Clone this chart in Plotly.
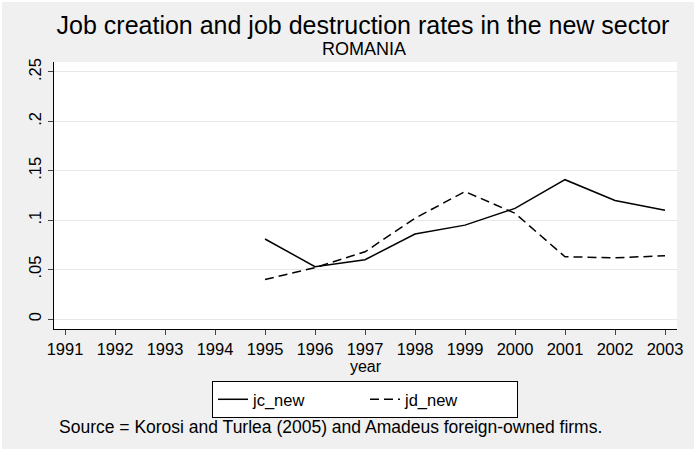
import plotly.graph_objects as go

years = [1995, 1996, 1997, 1998, 1999, 2000, 2001, 2002, 2003]
jc_new = [0.081, 0.053, 0.060, 0.086, 0.095, 0.112, 0.141, 0.120, 0.110]
jd_new = [0.040, 0.052, 0.068, 0.102, 0.129, 0.107, 0.063, 0.062, 0.064]
x_ticks = list(range(1991, 2004))
y_ticks = [0, 0.05, 0.1, 0.15, 0.2, 0.25]
y_labels = ['0', '.05', '.1', '.15', '.2', '.25']

fig = go.Figure()
fig.add_trace(go.Scatter(x=years, y=jc_new, mode='lines', name='jc_new',
                         line=dict(color='black', width=1.5)))
fig.add_trace(go.Scatter(x=years, y=jd_new, mode='lines', name='jd_new',
                         line=dict(color='black', width=1.5, dash='9px,5px')))

# page has a 2px white body margin, so the figure is 694x447
fig.update_layout(
    width=694, height=447,
    margin=dict(l=52, r=19, t=60, b=120),
    paper_bgcolor='#f0f0f0',
    plot_bgcolor='white',
    font=dict(family='Liberation Sans, Arial', color='black', size=16),
    title=dict(text='Job creation and job destruction rates in the new sector',
               x=(363 - 2) / 694, xanchor='center', y=1 - 23 / 447, yanchor='middle',
               font=dict(size=25)),
    xaxis=dict(
        range=[1990.78, 2003.24], tickvals=x_ticks, ticks='outside', ticklen=5,
        showgrid=False, showline=True, linecolor='black', zeroline=False,
        tickfont=dict(size=16.5),
        title=dict(text='year', standoff=0, font=dict(size=16)),
    ),
    yaxis=dict(
        range=[-0.0101, 0.2601], tickvals=y_ticks, ticktext=y_labels,
        tickangle=-90, ticks='outside', ticklen=5, tickfont=dict(size=16.5),
        showgrid=True, gridcolor='#e8e8e8', showline=True, linecolor='black',
        zeroline=False,
    ),
    legend=dict(orientation='h', x=(363 - 52) / 623, xanchor='center',
                y=-0.195, yanchor='top', entrywidth=107,
                bgcolor='white', bordercolor='black', borderwidth=1,
                font=dict(size=16.5)),
    annotations=[
        dict(text='ROMANIA', x=(362 - 52) / 623, xref='paper', y=(327 - 47) / 267,
             yref='paper', yanchor='middle', showarrow=False, font=dict(size=18)),
        dict(text='Source = Korosi and Turlea (2005) and Amadeus foreign-owned firms.',
             x=(328 - 52) / 623, xref='paper', y=(327 - 425) / 267, yref='paper',
             xanchor='center', yanchor='middle', showarrow=False, font=dict(size=17.5)),
    ],
)

fig.write_html('out.html', post_script="document.body.style.margin='2px';")
